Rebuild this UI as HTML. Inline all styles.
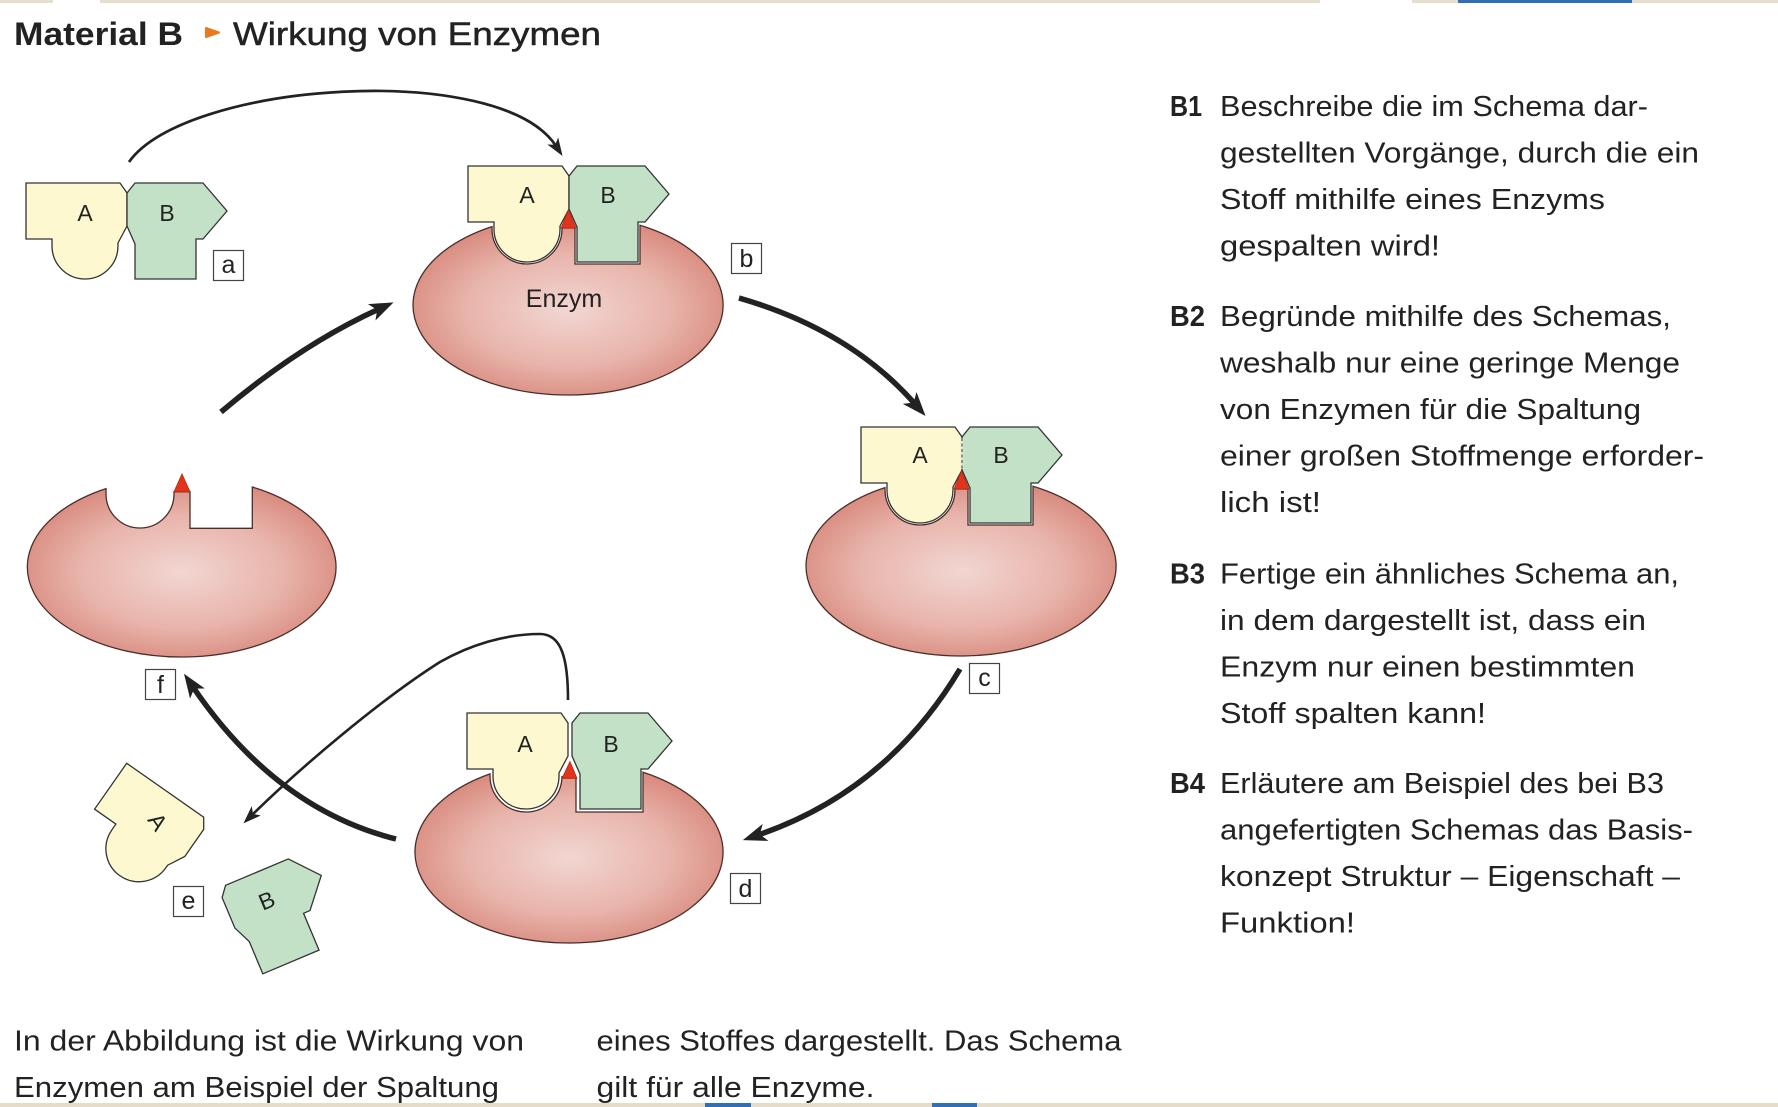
<!DOCTYPE html>
<html>
<head>
<meta charset="utf-8">
<style>
  html, body { margin: 0; padding: 0; background: #ffffff; }
  svg { display: block; }
  text { font-family: "Liberation Sans", "DejaVu Sans", sans-serif; fill: #222; }
</style>
</head>
<body>
<svg width="1778" height="1107" viewBox="0 0 1778 1107" xmlns="http://www.w3.org/2000/svg">
  <defs>
    <radialGradient id="eg" cx="50%" cy="50%" r="55%">
      <stop offset="0%" stop-color="#f2d6d2"/>
      <stop offset="60%" stop-color="#e8b4ab"/>
      <stop offset="100%" stop-color="#d98a7e"/>
    </radialGradient>
    <marker id="mt" markerUnits="userSpaceOnUse" markerWidth="24" markerHeight="18" refX="8" refY="9" orient="auto" viewBox="0 0 24 18">
      <path d="M0,0 L24,9 L0,18 L6,9 Z" fill="#222"/>
    </marker>
    <marker id="mn" markerUnits="userSpaceOnUse" markerWidth="18" markerHeight="13" refX="6" refY="6.5" orient="auto" viewBox="0 0 18 13">
      <path d="M0,0 L18,6.5 L0,13 L4.5,6.5 Z" fill="#222"/>
    </marker>
    <path id="molA" d="M0,0 H94 L101,10 V43 L92,60 V63 A33,33 0 0 1 26,63 V56 H0 Z"/>
    <path id="molB" d="M109,0 H177 L201,28 L177,56 H170 V96 H109 V61 L101,43 V10 Z"/>
  </defs>

  <!-- top bar -->
  <rect x="0" y="0" width="53" height="3" fill="#e6dfcc"/>
  <rect x="100" y="0" width="1220" height="3" fill="#e6dfcc"/>
  <rect x="1412" y="0" width="366" height="3" fill="#e6dfcc"/>
  <rect x="1458" y="0" width="174" height="3" fill="#2f6fb5"/>

  <!-- bottom bar -->
  <rect x="0" y="1103" width="1778" height="4" fill="#e6dccb"/>
  <rect x="705" y="1103" width="46" height="4" fill="#2f6fb5"/>
  <rect x="932" y="1103" width="45" height="4" fill="#2f6fb5"/>

  <!-- title -->
  <text x="14" y="45" font-size="32" font-weight="bold" textLength="169" lengthAdjust="spacingAndGlyphs">Material B</text>
  <path d="M206,28 L219,32.5 L206,37 Z" fill="#e8791f" stroke="#e8791f" stroke-width="2" stroke-linejoin="round"/>
  <text x="233" y="45" font-size="32" stroke="#222" stroke-width="0.5" textLength="368" lengthAdjust="spacingAndGlyphs">Wirkung von Enzymen</text>

  <!-- ENZYMES -->
  <!-- b -->
  <path d="M640,225.3 A155,90 0 1 1 492,226.6 V229 A35,35 0 0 0 562,229 V228 H575 V264 H640 Z" fill="url(#eg)" stroke="#4a2e2a" stroke-width="1.3"/>
  <!-- c -->
  <path d="M1033,486.3 A155,90 0 1 1 885,487.6 V490 A35,35 0 0 0 955,490 V489 H968 V525 H1033 Z" fill="url(#eg)" stroke="#4a2e2a" stroke-width="1.3"/>
  <!-- d -->
  <path d="M643,772.2 A154,91 0 1 1 490,773.9 V776 A36,36 0 0 0 562,776 V778 H576 V812 H643 Z" fill="url(#eg)" stroke="#4a2e2a" stroke-width="1.3"/>
  <!-- f -->
  <path d="M252.3,487 A154.3,90 0 1 1 106,488.6 V494 A34,34 0 0 0 174,494 V491.7 H190 V528.3 H252.3 Z" fill="url(#eg)" stroke="#4a2e2a" stroke-width="1.3"/>
  <path d="M174,491.7 L190,491.7 L182,474 Z" fill="#e2341d" stroke="#b52a14" stroke-width="0.8"/>

  <!-- MOLECULE a -->
  <g transform="translate(26,183)">
    <use href="#molA" fill="#fdf8cf" stroke="#333" stroke-width="1.3"/>
    <use href="#molB" fill="#c3e1c6" stroke="#333" stroke-width="1.3"/>
    <text x="59" y="38" font-size="23" text-anchor="middle" fill="#333">A</text>
    <text x="141" y="38" font-size="23" text-anchor="middle" fill="#333">B</text>
  </g>

  <!-- MOLECULE b -->
  <g transform="translate(468,166)">
    <use href="#molA" fill="#fdf8cf" stroke="#333" stroke-width="1.3"/>
    <use href="#molB" fill="#c3e1c6" stroke="#333" stroke-width="1.3"/>
    <path d="M100.5,44 L108,62 L93,62 Z" fill="#e2341d" stroke="#b52a14" stroke-width="0.8"/>
    <text x="59" y="37" font-size="23" text-anchor="middle" fill="#333">A</text>
    <text x="140" y="37" font-size="23" text-anchor="middle" fill="#333">B</text>
  </g>
  <text x="564" y="307" font-size="25" text-anchor="middle" fill="#3a2a28">Enzym</text>

  <!-- MOLECULE c -->
  <g transform="translate(861,427)">
    <use href="#molA" fill="#fdf8cf" stroke="#333" stroke-width="1.3"/>
    <use href="#molB" fill="#c3e1c6" stroke="#333" stroke-width="1.3"/>
    <line x1="101" y1="11" x2="101" y2="42" stroke="#e3ebcd" stroke-width="2.6"/>
    <line x1="101" y1="11" x2="101" y2="42" stroke="#444" stroke-width="1.1" stroke-dasharray="3 2.5"/>
    <path d="M100.5,44 L108,62 L93,62 Z" fill="#e2341d" stroke="#b52a14" stroke-width="0.8"/>
    <text x="59" y="36" font-size="23" text-anchor="middle" fill="#333">A</text>
    <text x="140" y="36" font-size="23" text-anchor="middle" fill="#333">B</text>
  </g>

  <!-- MOLECULE d -->
  <g transform="translate(467,713)">
    <use href="#molA" fill="#fdf8cf" stroke="#333" stroke-width="1.3"/>
    <text x="58" y="39" font-size="23" text-anchor="middle" fill="#333">A</text>
  </g>
  <g transform="translate(471,713)">
    <use href="#molB" fill="#c3e1c6" stroke="#333" stroke-width="1.3"/>
    <text x="140" y="39" font-size="23" text-anchor="middle" fill="#333">B</text>
  </g>
  <path d="M570,761.5 L577,778.3 L562,778.3 Z" fill="#e2341d" stroke="#b52a14" stroke-width="0.8"/>

  <!-- e: separated products -->
  <g transform="translate(126.7,763.3) rotate(35)">
    <use href="#molA" fill="#fdf8cf" stroke="#333" stroke-width="1.3"/>
    <text transform="translate(59,30) rotate(20)" y="8" font-size="23" text-anchor="middle" fill="#333">A</text>
  </g>
  <g transform="translate(225.6,885.3) rotate(-22.8)">
    <path d="M0,0 H68 L92,28 L68,56 H61 V96 H0 V61 L-8,43 V10 Z" fill="#c3e1c6" stroke="#333" stroke-width="1.3"/>
    <text x="32" y="38" font-size="23" text-anchor="middle" fill="#333">B</text>
  </g>

  <!-- label boxes -->
  <g stroke="#444" stroke-width="1.2" fill="#fff">
    <rect x="213.5" y="250.5" width="30" height="30"/>
    <rect x="731.5" y="243.5" width="30" height="30"/>
    <rect x="969.5" y="663.5" width="30" height="30"/>
    <rect x="730.5" y="873.5" width="30" height="30"/>
    <rect x="173.5" y="886.5" width="30" height="30"/>
    <rect x="145.5" y="669.5" width="30" height="30"/>
  </g>
  <g font-size="25" text-anchor="middle">
    <text x="228.5" y="273" fill="#333">a</text>
    <text x="746.5" y="267" fill="#333">b</text>
    <text x="984.5" y="686" fill="#333">c</text>
    <text x="745.5" y="897" fill="#333">d</text>
    <text x="188.5" y="909" fill="#333">e</text>
    <text x="160.5" y="693" fill="#333">f</text>
  </g>

  <!-- ARROWS -->
  <g fill="none" stroke="#222" stroke-linecap="butt">
    <!-- a -> b thin -->
    <path d="M129,162 C185,82 500,60 556,146" stroke-width="2.7" marker-end="url(#mn)"/>
    <!-- b -> c thick -->
    <path d="M739,298 Q850,330 915,404" stroke-width="5.5" marker-end="url(#mt)"/>
    <!-- c -> d thick -->
    <path d="M960,669 Q887,791 758,835" stroke-width="5.5" marker-end="url(#mt)"/>
    <!-- d -> f thick -->
    <path d="M396,839 Q276,809 193,687" stroke-width="5.5" marker-end="url(#mt)"/>
    <!-- d -> e thin -->
    <path d="M568,700 C568,660 562,634 540,634 C505,634 470,645 440,662 C380,700 300,768 252,815" stroke-width="2.6" marker-end="url(#mn)"/>
    <!-- f -> b thick -->
    <path d="M221,412 Q300,345 379,309" stroke-width="5.5" marker-end="url(#mt)"/>
  </g>

  <!-- RIGHT COLUMN -->
  <g font-size="29">
    <text x="1170" y="116" font-weight="bold" textLength="32" lengthAdjust="spacingAndGlyphs">B1</text>
    <text x="1220" y="116" textLength="428" lengthAdjust="spacingAndGlyphs">Beschreibe die im Schema dar-</text>
    <text x="1220" y="162.5" textLength="479" lengthAdjust="spacingAndGlyphs">gestellten Vorgänge, durch die ein</text>
    <text x="1220" y="209" textLength="385" lengthAdjust="spacingAndGlyphs">Stoff mithilfe eines Enzyms</text>
    <text x="1220" y="255.5" textLength="220" lengthAdjust="spacingAndGlyphs">gespalten wird!</text>

    <text x="1170" y="326" font-weight="bold" textLength="35" lengthAdjust="spacingAndGlyphs">B2</text>
    <text x="1220" y="326" textLength="451" lengthAdjust="spacingAndGlyphs">Begründe mithilfe des Schemas,</text>
    <text x="1220" y="372.5" textLength="460" lengthAdjust="spacingAndGlyphs">weshalb nur eine geringe Menge</text>
    <text x="1220" y="419" textLength="421" lengthAdjust="spacingAndGlyphs">von Enzymen für die Spaltung</text>
    <text x="1220" y="465.5" textLength="484" lengthAdjust="spacingAndGlyphs">einer großen Stoffmenge erforder-</text>
    <text x="1220" y="512" textLength="101" lengthAdjust="spacingAndGlyphs">lich ist!</text>

    <text x="1170" y="583.5" font-weight="bold" textLength="35" lengthAdjust="spacingAndGlyphs">B3</text>
    <text x="1220" y="583.5" textLength="459" lengthAdjust="spacingAndGlyphs">Fertige ein ähnliches Schema an,</text>
    <text x="1220" y="630" textLength="426" lengthAdjust="spacingAndGlyphs">in dem dargestellt ist, dass ein</text>
    <text x="1220" y="676.5" textLength="415" lengthAdjust="spacingAndGlyphs">Enzym nur einen bestimmten</text>
    <text x="1220" y="723" textLength="266" lengthAdjust="spacingAndGlyphs">Stoff spalten kann!</text>

    <text x="1170" y="793" font-weight="bold" textLength="35" lengthAdjust="spacingAndGlyphs">B4</text>
    <text x="1220" y="793" textLength="444" lengthAdjust="spacingAndGlyphs">Erläutere am Beispiel des bei B3</text>
    <text x="1220" y="839.5" textLength="473" lengthAdjust="spacingAndGlyphs">angefertigten Schemas das Basis-</text>
    <text x="1220" y="886" textLength="460" lengthAdjust="spacingAndGlyphs">konzept Struktur – Eigenschaft –</text>
    <text x="1220" y="932.5" textLength="135" lengthAdjust="spacingAndGlyphs">Funktion!</text>
  </g>

  <!-- BOTTOM TEXT -->
  <g font-size="29">
    <text x="14" y="1050.5" textLength="510" lengthAdjust="spacingAndGlyphs">In der Abbildung ist die Wirkung von</text>
    <text x="14" y="1097" textLength="485" lengthAdjust="spacingAndGlyphs">Enzymen am Beispiel der Spaltung</text>
    <text x="596.5" y="1050.5" textLength="525" lengthAdjust="spacingAndGlyphs">eines Stoffes dargestellt. Das Schema</text>
    <text x="596.5" y="1097" textLength="278" lengthAdjust="spacingAndGlyphs">gilt für alle Enzyme.</text>
  </g>
</svg>
</body>
</html>
